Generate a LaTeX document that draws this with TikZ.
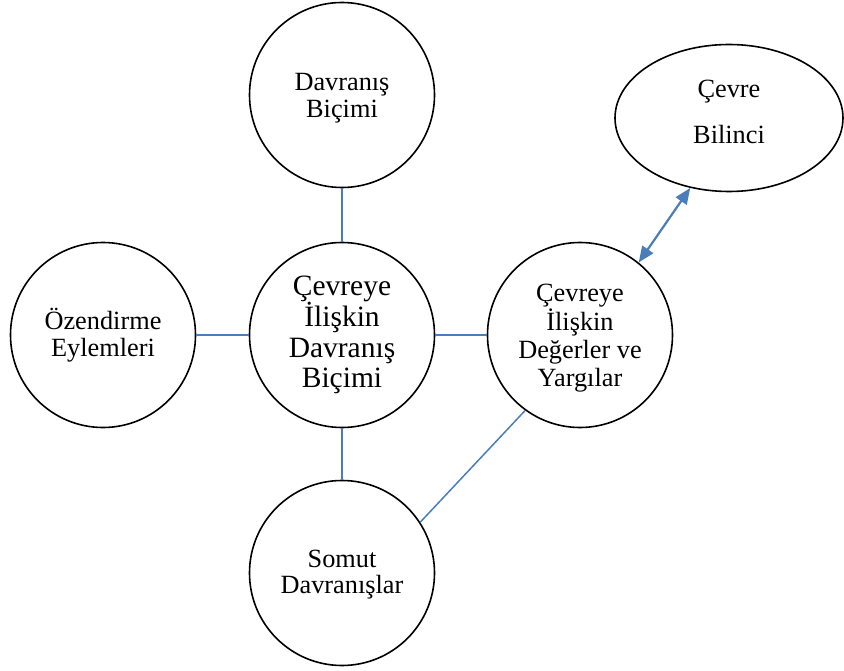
\documentclass[tikz,border=0pt]{standalone}
\usepackage{fontspec}
\setmainfont{Liberation Serif}
\usetikzlibrary{shapes.geometric,arrows.meta}
\definecolor{lineblue}{RGB}{74,126,187}
\tikzset{
  bubble/.style={circle,draw=black,line width=1.6pt,inner sep=0pt,minimum size=185pt,align=center,
    font=\fontsize{26.3}{26.7}\selectfont},
  oval/.style={ellipse,draw=black,line width=1.6pt,inner sep=0pt,minimum width=228pt,minimum height=147pt,align=center,
    font=\fontsize{26.3}{26.7}\selectfont},
  link/.style={draw=lineblue,line width=1.5pt},
  duallink/.style={draw=lineblue,line width=2.2pt,{Triangle[length=16pt,width=13pt]}-{Triangle[length=16pt,width=13pt]}}
}
\begin{document}
\begin{tikzpicture}[x=1pt,y=-1pt]
\useasboundingbox (0,0) rectangle (844,671);
\node[bubble] (top) at (342,95) {\rule{0pt}{23.7pt}Davranış\\Biçimi};
\node[bubble,font=\fontsize{29.5}{30.5}\selectfont] (mid) at (342,335) {Çevreye\\İlişkin\\Davranış\\Biçimi};
\node[bubble] (left) at (103,335) {Özendirme\\Eylemleri};
\node[bubble,font=\fontsize{26.3}{28.3}\selectfont] (right) at (580,335) {\rule{0pt}{24pt}Çevreye\\İlişkin\\Değerler ve\\Yargılar};
\node[bubble] (bottom) at (342,573) {\rule{0pt}{20.3pt}Somut\\Davranışlar};
\node[oval] (aware) at (729,118) {Çevre\\[19.3pt]Bilinci\rule[-13.2pt]{0pt}{13.2pt}};
\draw[link] (top.south) -- (mid.north);
\draw[link] (left.east) -- (mid.west);
\draw[link] (mid.east) -- (right.west);
\draw[link] (mid.south) -- (bottom.north);
\draw[link] (right.234) -- (bottom.33.4);
\draw[duallink] (right.51.5) -- (aware.241);
\end{tikzpicture}
\end{document}
